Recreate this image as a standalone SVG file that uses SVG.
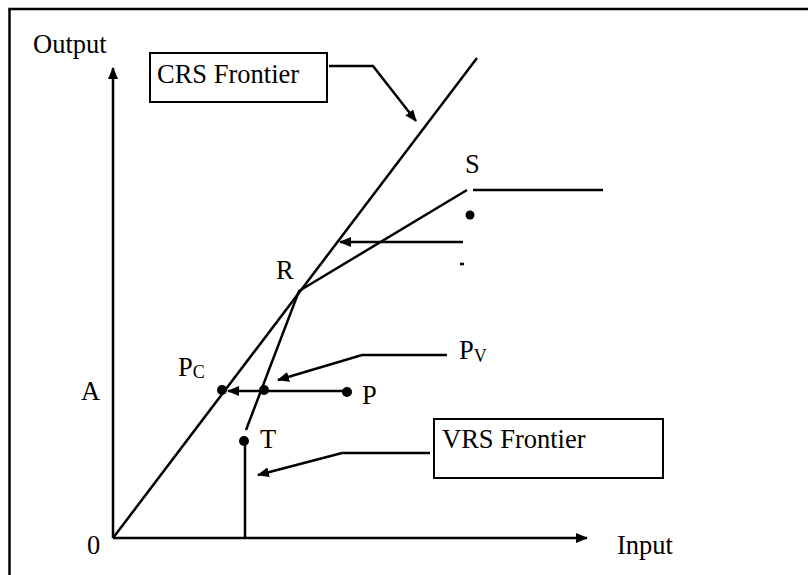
<svg xmlns="http://www.w3.org/2000/svg" width="808" height="575" viewBox="0 0 808 575">
<style>
.ln{stroke:#000;stroke-width:2.5;fill:none}
.arr{stroke:#000;stroke-width:2.5;fill:none;marker-end:url(#ah)}
.bx{stroke:#000;stroke-width:2;fill:#fff}
text{font-family:"Liberation Serif","Times New Roman",serif;font-size:26.5px;fill:#000}
.sub{font-size:18px}
.dot{fill:#000}
</style>
<defs>
<marker id="ah" viewBox="0 0 12 10" refX="11" refY="5" markerWidth="12" markerHeight="10" markerUnits="userSpaceOnUse" orient="auto">
<path d="M0,0 L12,5 L0,10 z" fill="#000"/>
</marker>
</defs>
<rect x="9.5" y="9" width="820" height="600" fill="none" stroke="#000" stroke-width="2.5"/>
<g id="axes">
<line class="arr" x1="113" y1="538" x2="113" y2="68"/>
<line class="arr" x1="113" y1="538" x2="587" y2="538"/>
<text x="33" y="53">Output</text>
<text x="617" y="554">Input</text>
<text x="87" y="554">0</text>
<text x="81" y="400">A</text>
</g>
<g id="crs-frontier">
<line class="ln" x1="113" y1="538" x2="477" y2="58"/>
</g>
<g id="vrs-frontier">
<polyline class="ln" points="603,190 473,190"/>
<polyline class="ln" points="467,190 299,291 246,430"/>
<line class="ln" x1="245" y1="441" x2="245" y2="538"/>
</g>
<g id="crs-label">
<rect class="bx" x="150" y="53" width="177" height="49"/>
<text x="157" y="83">CRS Frontier</text>
</g>
<g id="vrs-label">
<rect class="bx" x="434" y="419" width="229" height="59"/>
<text x="442" y="448">VRS Frontier</text>
</g>
<g id="point-S">
<text x="465" y="173">S</text>
<circle class="dot" cx="470" cy="215" r="4.5"/>
<line class="ln" x1="460" y1="264" x2="464" y2="264" stroke-width="1.5"/>
</g>
<g id="point-R">
<text x="276" y="279">R</text>
</g>
<g id="point-Pc">
<circle class="dot" cx="222" cy="390" r="5"/>
<text x="178" y="376">P<tspan class="sub" dy="2">C</tspan></text>
</g>
<g id="point-Pv">
<circle class="dot" cx="264" cy="390" r="5"/>
<text x="459" y="359">P<tspan class="sub" dy="3">V</tspan></text>
</g>
<g id="point-P">
<circle class="dot" cx="347" cy="392" r="5"/>
<text x="362" y="404">P</text>
</g>
<g id="point-T">
<circle class="dot" cx="244" cy="441" r="5"/>
<text x="260" y="448">T</text>
</g>
<g id="connectors">
<polyline class="arr" points="329,66 373,66 416,121"/>
<polyline class="arr" points="463,242 340,242"/>
<polyline class="arr" points="347,391 228,391"/>
<polyline class="arr" points="447,355 362,355 278,380"/>
<polyline class="arr" points="430,453 342,453 258,475"/>
</g>
</svg>
